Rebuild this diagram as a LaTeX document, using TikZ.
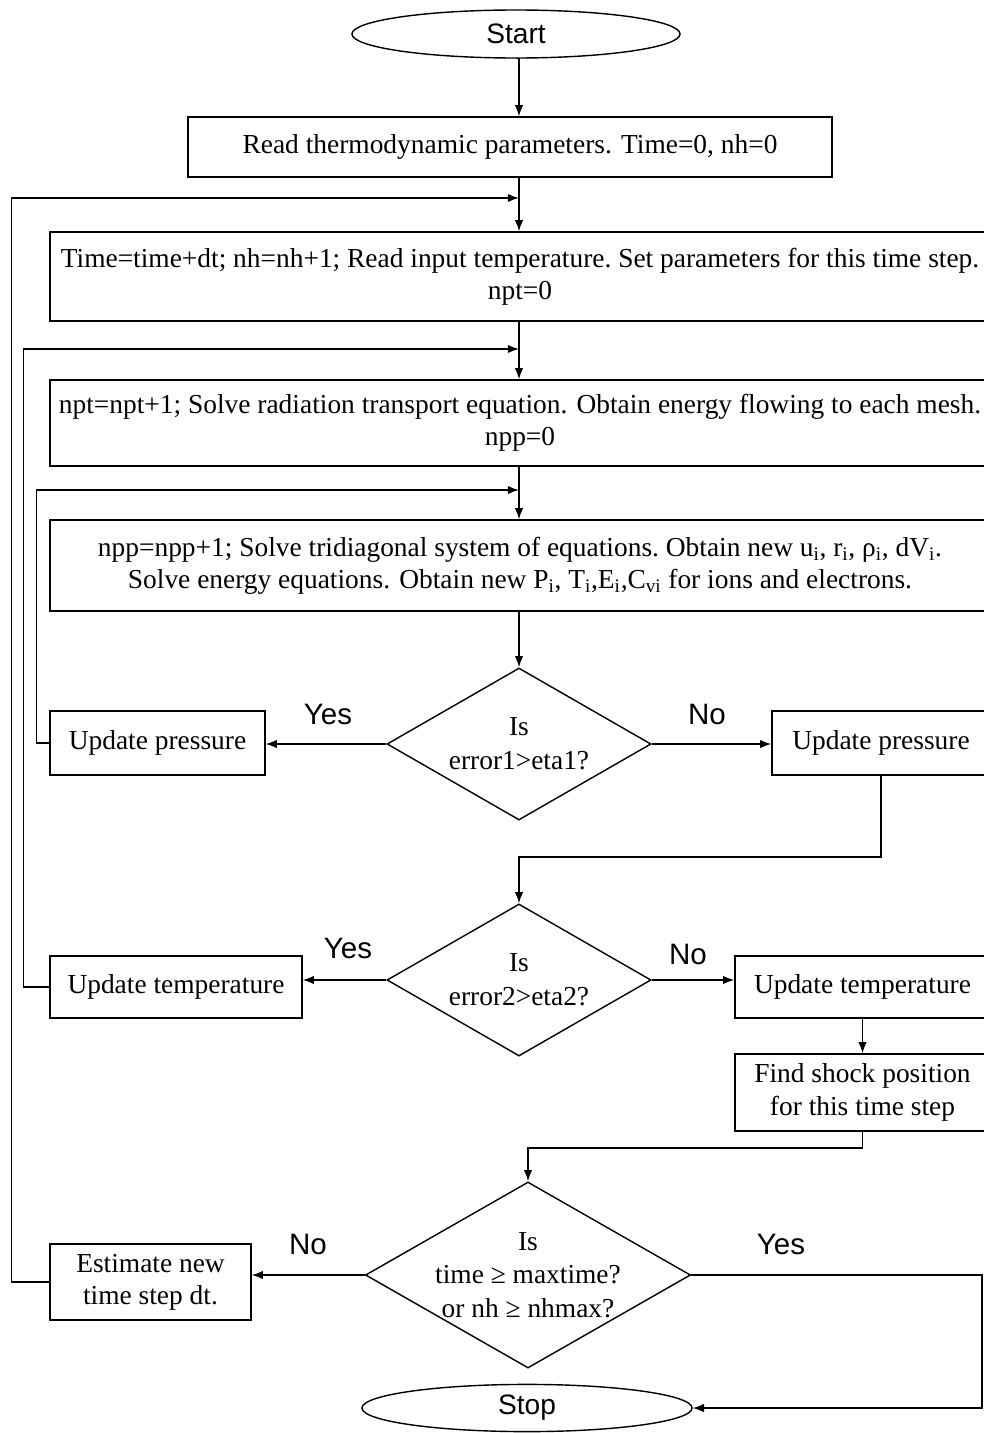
\documentclass[tikz,border=0pt]{standalone}
\usepackage{fontspec}
\setmainfont{Liberation Serif}
\newfontfamily\sansfont{Liberation Sans}
\usetikzlibrary{shapes.geometric, arrows.meta}

\begin{document}
\begin{tikzpicture}
    [
        x=0.025cm, y=-0.025cm,
        box/.style={rectangle, draw=black, line width=1pt, align=center, inner sep=0pt, font=\fontsize{19.5}{23}\selectfont},
        decision/.style={diamond, draw=black, line width=1pt, align=center, inner sep=-4pt, aspect=1.74, font=\fontsize{19.5}{24}\selectfont},
        terminal/.style={ellipse, draw=black, line width=1pt, inner sep=0pt, font=\sansfont\fontsize{20}{22}\selectfont},
        answer/.style={font=\sansfont\fontsize{21}{24}\selectfont},
        flow/.style={line width=1pt, -{Latex[length=8pt, width=6pt]}},
        line/.style={line width=1pt}
    ]
    \useasboundingbox (0,0) rectangle (984,1433);
    \fill[white] (0,0) rectangle (984,1433);
    % Start and read
    \node[terminal, minimum width=8.2cm, minimum height=1.2cm] (start) at (516,34) {Start};
    \node[box, minimum width=16.1cm, minimum height=1.5cm] (read) at (510,147) {Read thermodynamic parameters. Time=0, nh=0};
    % Time step loop
    \node[box, minimum width=23.5cm, minimum height=2.225cm] (timestep) at (520,276.5) {Time=time+dt; nh=nh+1; Read input temperature.\ Set parameters for this time step.\\ npt=0};
    \node[box, minimum width=23.5cm, minimum height=2.15cm] (radiation) at (520,423) {npt=npt+1; Solve radiation transport equation. Obtain energy flowing to each mesh.\\ npp=0};
    \node[box, minimum width=23.5cm, minimum height=2.275cm] (tridiag) at (520,565.5) {npp=npp+1; Solve tridiagonal system of equations.\ Obtain new u\textsubscript{i}, r\textsubscript{i}, ρ\textsubscript{i}, dV\textsubscript{i}.\\ Solve energy equations. Obtain new P\textsubscript{i}, T\textsubscript{i},E\textsubscript{i},C\textsubscript{vi} for ions and electrons.};
    \coordinate (j1) at (519,198);
    \coordinate (j2) at (519,349);
    \coordinate (j3) at (519,490);
    % Pressure test
    \node[decision, minimum width=6.6cm, minimum height=3.8cm] (d1) at (519,744) {Is\\ error1>eta1?};
    \node[box, minimum width=5.375cm, minimum height=1.6cm] (presL) at (157.5,743) {Update pressure};
    \node[box, minimum width=5.45cm, minimum height=1.6cm] (presR) at (881,743) {Update pressure};
    % Temperature test
    \node[decision, minimum width=6.6cm, minimum height=3.8cm] (d2) at (519,980) {Is\\ error2>eta2?};
    \node[box, minimum width=6.3cm, minimum height=1.55cm] (tempL) at (176,987) {Update temperature};
    \node[box, minimum width=6.375cm, minimum height=1.55cm] (tempR) at (862.5,987) {Update temperature};
    \node[box, minimum width=6.375cm, minimum height=1.925cm] (shock) at (862.5,1092.5) {Find shock position\\ for this time step};
    % Time test
    \node[decision, minimum width=8.125cm, minimum height=4.65cm] (d3) at (528,1275) {Is\\ time ≥ maxtime?\\ or nh ≥ nhmax?};
    \node[box, minimum width=5.025cm, minimum height=1.9cm] (estimate) at (150.5,1282) {Estimate new\\ time step dt.};
    \node[terminal, minimum width=8.25cm, minimum height=1.18cm] (stop) at (527,1408) {Stop};
    \coordinate (rt) at (982,1275);
    % Main line
    \draw[flow] (start.south) -- (start.south -| j1) -- (read.north -| j1);
    \draw[flow] (read.south -| j1) -- (timestep.north -| j1);
    \draw[flow] (timestep.south -| j1) -- (radiation.north -| j1);
    \draw[flow] (radiation.south -| j1) -- (tridiag.north -| j1);
    \draw[flow] (tridiag.south -| j1) -- (d1.north);
    % Answers
    \draw[flow] (d1.west) -- (d1.west -| presL.east);
    \draw[flow] (d1.east) -- (d1.east -| presR.west);
    \node[answer] (yes1) at (328,714) {Yes};
    \node[answer] (no1) at (707,714) {No};
    \draw[flow] (presR.south) -- (presR.south |- 0,857) -| (d2.north);
    \draw[flow] (d2.west) -- (d2.west -| tempL.east);
    \draw[flow] (d2.east) -- (d2.east -| tempR.west);
    \node[answer] (yes2) at (348,948) {Yes};
    \node[answer] (no2) at (688,954) {No};
    \draw[flow] (tempR.south) -- (shock.north);
    \draw[flow] (shock.south) -- (shock.south |- 0,1148) -| (d3.north);
    \draw[flow] (d3.west) -- (d3.west -| estimate.east);
    \draw[flow] (d3.east) -- (rt) |- (stop.east);
    \node[answer] (no3) at (308,1244) {No};
    \node[answer] (yes3) at (781,1244) {Yes};
    % Loops back
    \draw[flow] (presL.west) -- ++(-13,0) |- (j3);
    \draw[flow] (tempL.west) -- ++(-26,0) |- (j2);
    \draw[flow] (estimate.west) -- ++(-38,0) |- (j1);
\end{tikzpicture}
\end{document}
